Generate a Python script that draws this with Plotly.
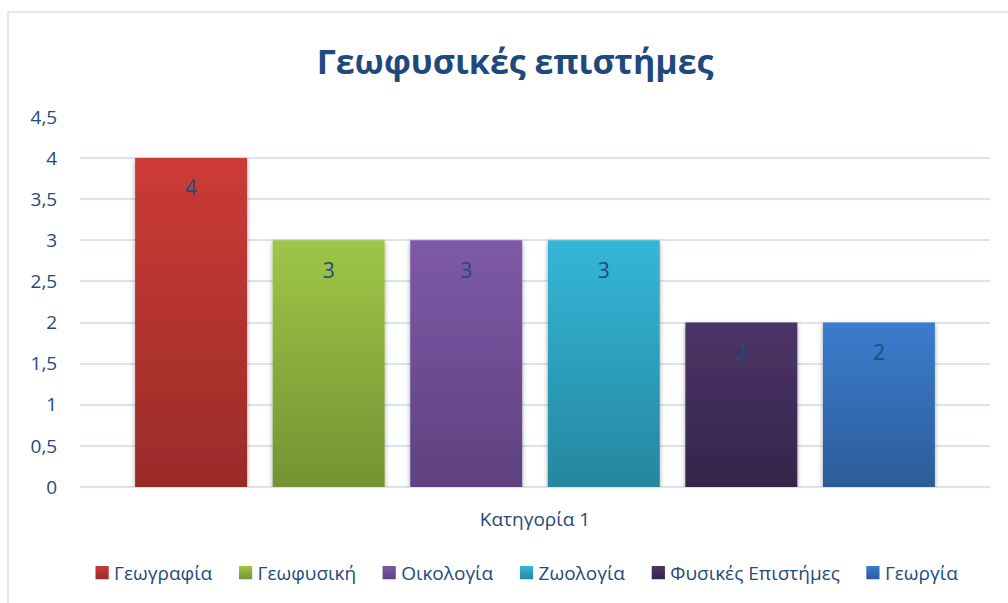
import json
import plotly.graph_objects as go

# Data
category = ["Κατηγορία 1"]
series_names = ["Γεωγραφία", "Γεωφυσική", "Οικολογία", "Ζωολογία",
                "Φυσικές Επιστήμες", "Γεωργία"]
series_values = [4, 3, 3, 3, 2, 2]
y_ticks = [0, 0.5, 1, 1.5, 2, 2.5, 3, 3.5, 4, 4.5]

# Vertical gradient for each series: (top colour, bottom colour)
top_colors = ["#cd3b37", "#9ec646", "#7e5aa7", "#34b7d8", "#4d3468", "#3b7ccd"]
bottom_colors = ["#992b28", "#739334", "#5e4180", "#25879f", "#35254a", "#2c5d99"]

TEXT_BLUE = "#244a7c"
FONT = "Open Sans"

fig = go.Figure()
for name, val, col in zip(series_names, series_values, top_colors):
    fig.add_trace(go.Bar(
        name=name,
        x=category,
        y=[val],
        marker=dict(color=col, line=dict(width=0)),
        # small spacer line keeps the value label a little below the bar top
        text=[f"<span style='font-size:7px'>\u00a0</span><br>{val}"],
        textposition="inside",
        insidetextanchor="end",
        textangle=0,
        insidetextfont=dict(family=FONT, size=21, color=TEXT_BLUE),
        hoverinfo="skip",
    ))

fig.update_layout(
    width=1008,
    height=603,
    autosize=False,
    margin=dict(l=80, r=18, t=117, b=116),
    paper_bgcolor="white",
    plot_bgcolor="white",
    separators=",.",
    barmode="group",
    bargap=0.093,
    bargroupgap=0.186,
    font=dict(family=FONT, color=TEXT_BLUE),
    title=dict(
        text="<b>Γεωφυσικές επιστήμες</b>",
        font=dict(family=FONT, size=34, color="#1f497d"),
        x=0.511, xanchor="center",
        y=1 - 62 / 603, yanchor="middle",
    ),
    showlegend=True,
    legend=dict(
        orientation="h",
        x=0.515, xanchor="center", xref="container",
        y=0.05, yanchor="middle", yref="container",
        font=dict(family=FONT, size=19, color=TEXT_BLUE),
        itemwidth=30,
        tracegroupgap=0,
        traceorder="normal",
    ),
    xaxis=dict(
        type="category",
        showgrid=False,
        showline=False,
        ticks="outside",
        ticklen=15,
        tickcolor="rgba(0,0,0,0)",
        tickfont=dict(family=FONT, size=19, color=TEXT_BLUE),
    ),
    yaxis=dict(
        range=[0, 4.5],
        tickvals=y_ticks,
        showgrid=True,
        gridcolor="#d9e3f1",
        gridwidth=1.5,
        zeroline=True,
        zerolinecolor="#d9e3f1",
        zerolinewidth=1.5,
        showline=False,
        ticks="outside",
        ticklen=18,
        tickcolor="rgba(0,0,0,0)",
        tickfont=dict(family=FONT, size=19, color=TEXT_BLUE),
    ),
    shapes=[dict(
        type="rect", xref="paper", yref="paper",
        x0=(8 - 80) / 910, x1=1.2, y0=-1.0, y1=(487 - 12) / 370,
        line=dict(color="#d3e1f3", width=1.5),
        fillcolor="rgba(0,0,0,0)", layer="below",
    )],
)

# Gradient fills and soft shadows applied to the rendered bar paths;
# legend swatches get the same gradient and sit closer to their labels.
post = """
var gd = document.getElementById('{plot_id}');
var TOPS = %s, BOTS = %s;
function paint() {
  var svg = gd.querySelector('svg.main-svg');
  var NS = 'http://www.w3.org/2000/svg';
  var defs = svg.querySelector('defs#grad-defs');
  if (!defs) {
    defs = document.createElementNS(NS, 'defs');
    defs.setAttribute('id', 'grad-defs');
    svg.insertBefore(defs, svg.firstChild);
    for (var i = 0; i < TOPS.length; i++) {
      var g = document.createElementNS(NS, 'linearGradient');
      g.setAttribute('id', 'bargrad' + i);
      g.setAttribute('x1', '0'); g.setAttribute('y1', '0');
      g.setAttribute('x2', '0'); g.setAttribute('y2', '1');
      var s0 = document.createElementNS(NS, 'stop');
      s0.setAttribute('offset', '0'); s0.setAttribute('stop-color', TOPS[i]);
      var s1 = document.createElementNS(NS, 'stop');
      s1.setAttribute('offset', '1'); s1.setAttribute('stop-color', BOTS[i]);
      g.appendChild(s0); g.appendChild(s1); defs.appendChild(g);
    }
    var f = document.createElementNS(NS, 'filter');
    f.setAttribute('id', 'barshadow');
    f.setAttribute('x', '-20%%'); f.setAttribute('y', '-20%%');
    f.setAttribute('width', '140%%'); f.setAttribute('height', '140%%');
    var ds = document.createElementNS(NS, 'feDropShadow');
    ds.setAttribute('dx', '0'); ds.setAttribute('dy', '2');
    ds.setAttribute('stdDeviation', '2.5');
    ds.setAttribute('flood-color', '#000'); ds.setAttribute('flood-opacity', '0.35');
    f.appendChild(ds); defs.appendChild(f);
  }
  gd.querySelectorAll('.barlayer .trace').forEach(function(tr, i) {
    tr.querySelectorAll('.point path').forEach(function(p) {
      p.style.fill = 'url(#bargrad' + i + ')';
      p.setAttribute('filter', 'url(#barshadow)');
    });
  });
  gd.querySelectorAll('.legend .traces').forEach(function(tr, i) {
    tr.querySelectorAll('.legendpoints path').forEach(function(p) {
      p.style.fill = 'url(#bargrad' + i + ')';
      p.setAttribute('transform', 'translate(28,0) scale(1.1)');
    });
  });
}
paint();
gd.on('plotly_afterplot', paint);
""" % (json.dumps(top_colors), json.dumps(bottom_colors))

fig.write_html("out.html", post_script=post)
